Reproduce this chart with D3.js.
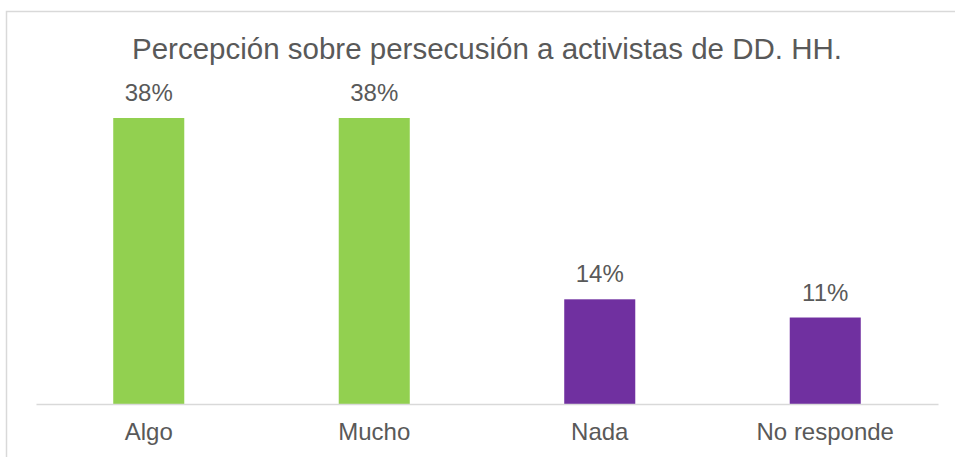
<!DOCTYPE html>
<html>
<head>
<meta charset="utf-8">
<script src="https://cdn.jsdelivr.net/npm/d3@7"></script>
<style>
  body { margin: 0; background: #fff; }
  text { font-family: "Liberation Sans", Arial, sans-serif; fill: #595959; }
</style>
</head>
<body>
<svg id="chart" width="955" height="457"></svg>
<script>
let categories = ["Algo", "Mucho", "Nada", "No responde"];
let values = [0.377, 0.377, 0.138, 0.114];
let barColors = ["#92D050", "#92D050", "#7030A0", "#7030A0"];
let title = "Percepción sobre persecusión a activistas de DD. HH.";

let width = 955,
    height = 457;
let margin = { left: 36, right: 17, top: 118, bottom: 53 };

let svg = d3.select("#chart");

// chart frame
svg.append("rect")
    .attr("x", 6.5)
    .attr("y", 11.5)
    .attr("width", 960)
    .attr("height", 460)
    .attr("fill", "none")
    .attr("stroke", "#D9D9D9")
    .attr("stroke-width", 1.5);

let x = d3.scaleBand()
    .domain(categories)
    .range([margin.left, width - margin.right])
    .paddingInner(0.685)
    .paddingOuter(0.3425);

let baseY = height - margin.bottom;
let y = d3.scaleLinear()
    .domain([0, 0.377])
    .range([baseY, margin.top]);

let data = categories.map(function (c, i) {
    return { cat: c, value: values[i], color: barColors[i] };
});

svg.append("text")
    .attr("x", 487)
    .attr("y", 59)
    .attr("text-anchor", "middle")
    .style("font-size", "29.5px")
    .text(title);

svg.selectAll(".bar")
    .data(data)
    .enter().append("rect")
    .attr("class", "bar")
    .attr("x", function (d) { return x(d.cat); })
    .attr("y", function (d) { return y(d.value); })
    .attr("width", x.bandwidth())
    .attr("height", function (d) { return baseY - y(d.value); })
    .attr("fill", function (d) { return d.color; });

svg.selectAll(".label")
    .data(data)
    .enter().append("text")
    .attr("class", "label")
    .attr("x", function (d) { return x(d.cat) + x.bandwidth() / 2; })
    .attr("y", function (d) { return y(d.value) - 17; })
    .attr("text-anchor", "middle")
    .style("font-size", "24px")
    .text(function (d) { return d3.format(".0%")(d.value); });

let xAxis = svg.append("g")
    .attr("transform", "translate(0," + baseY + ")")
    .call(d3.axisBottom(x).tickSize(0).tickPadding(19));
xAxis.select(".domain").attr("stroke", "#D9D9D9").attr("stroke-width", 1.5);
xAxis.selectAll("text")
    .style("font-size", "24px")
    .style("font-family", "'Liberation Sans', Arial, sans-serif")
    .attr("fill", "#595959");
</script>
</body>
</html>
